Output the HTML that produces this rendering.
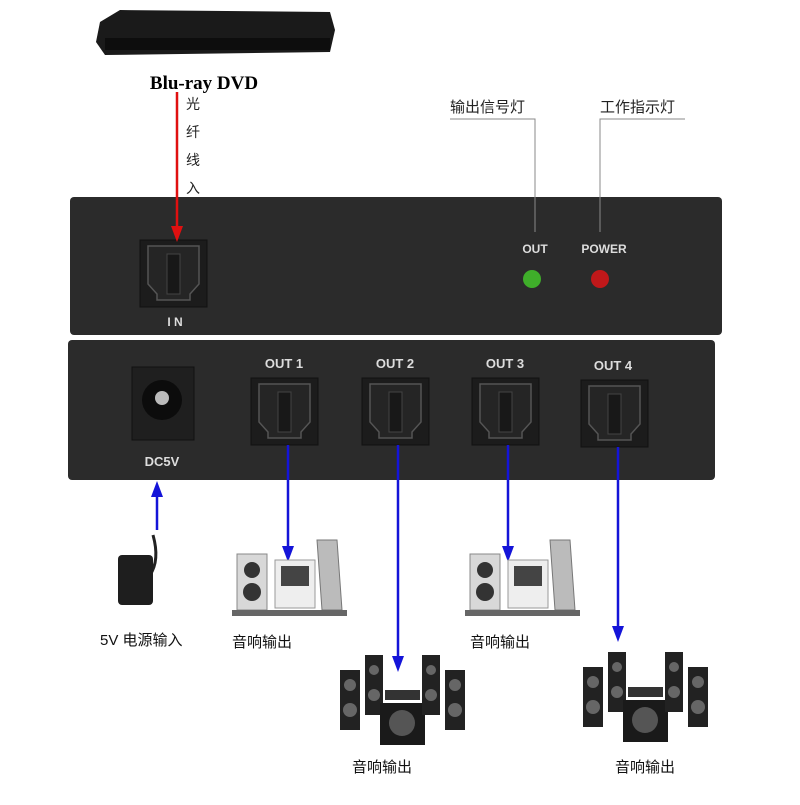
<!DOCTYPE html>
<html><head><meta charset="utf-8"><style>
body{margin:0;background:#fff;width:800px;height:800px;overflow:hidden}
svg text{font-family:"Liberation Sans","Noto Sans CJK SC",sans-serif}
</style></head><body>
<svg width="800" height="800" viewBox="0 0 800 800" xmlns="http://www.w3.org/2000/svg">
<defs>
<g id="port">
<rect x="0" y="0" width="67" height="67" fill="#1c1c1c" stroke="#111"/>
<path d="M8 6 H59 V44 L50 54 L50 60 H17 L17 54 L8 44 Z" fill="#252525" stroke="#555" stroke-width="1.5"/>
<rect x="27" y="14" width="13" height="40" fill="#181818" stroke="#444"/>
</g>
<g id="spk2">
<rect x="0" y="14" width="30" height="56" fill="#d8d8d8" stroke="#888"/>
<circle cx="15" cy="30" r="8" fill="#333"/><circle cx="15" cy="52" r="9" fill="#333"/>
<rect x="38" y="20" width="40" height="48" fill="#eee" stroke="#999"/>
<rect x="44" y="26" width="28" height="20" fill="#444"/>
<path d="M85 70 L80 0 L100 0 L105 70 Z" fill="#bbb" stroke="#777"/>
<rect x="-5" y="70" width="115" height="6" fill="#666"/>
</g>
<g id="ht">
<rect x="0" y="15" width="20" height="60" fill="#222"/><circle cx="10" cy="30" r="6" fill="#666"/><circle cx="10" cy="55" r="7" fill="#666"/>
<rect x="25" y="0" width="18" height="60" fill="#222"/><circle cx="34" cy="15" r="5" fill="#666"/><circle cx="34" cy="40" r="6" fill="#666"/>
<rect x="45" y="35" width="35" height="10" fill="#333"/>
<rect x="40" y="48" width="45" height="42" fill="#1a1a1a"/><circle cx="62" cy="68" r="13" fill="#555"/>
<rect x="82" y="0" width="18" height="60" fill="#222"/><circle cx="91" cy="15" r="5" fill="#666"/><circle cx="91" cy="40" r="6" fill="#666"/>
<rect x="105" y="15" width="20" height="60" fill="#222"/><circle cx="115" cy="30" r="6" fill="#666"/><circle cx="115" cy="55" r="7" fill="#666"/>
</g>
</defs>
<!-- DVD -->
<path d="M100 22 L120 10 L330 12 L335 30 L330 52 L105 55 L96 42 Z" fill="#1a1a1a"/>
<rect x="105" y="38" width="225" height="12" fill="#0d0d0d"/>
<text x="204" y="89" text-anchor="middle" font-weight="bold" font-size="19" style="font-family:'Liberation Serif',serif">Blu-ray DVD</text>
<g font-size="14" fill="#222"><text x="186" y="109">光</text><text x="186" y="137">纤</text><text x="186" y="165">线</text><text x="186" y="193">入</text></g>
<!-- labels -->
<text x="450" y="112" font-size="15" fill="#222">输出信号灯</text>
<text x="600" y="112" font-size="15" fill="#222">工作指示灯</text>
<!-- top box -->
<rect x="70" y="197" width="652" height="138" rx="4" fill="#2b2b2b"/>
<polyline points="450,119 535,119 535,232" fill="none" stroke="#888" stroke-width="1"/>
<polyline points="685,119 600,119 600,232" fill="none" stroke="#888" stroke-width="1"/>
<use href="#port" x="140" y="240"/>
<!-- red arrow -->
<line x1="177" y1="92" x2="177" y2="228" stroke="#e01010" stroke-width="2.5"/>
<path d="M171 226 L183 226 L177 242 Z" fill="#e01010"/>
<text x="175" y="326" text-anchor="middle" font-size="12" font-weight="bold" fill="#ddd">I N</text>
<text x="535" y="253" text-anchor="middle" font-size="12" font-weight="bold" fill="#ddd">OUT</text>
<text x="604" y="253" text-anchor="middle" font-size="12" font-weight="bold" fill="#ddd">POWER</text>
<circle cx="532" cy="279" r="9" fill="#3fae2a"/><circle cx="600" cy="279" r="9" fill="#c0181a"/>
<!-- bottom box -->
<rect x="68" y="340" width="647" height="140" rx="4" fill="#2b2b2b"/>
<rect x="132" y="367" width="62" height="73" fill="#1f1f1f" stroke="#111"/>
<circle cx="162" cy="400" r="20" fill="#0c0c0c"/><circle cx="162" cy="398" r="7" fill="#bbb"/>
<text x="162" y="466" text-anchor="middle" font-size="13" font-weight="bold" fill="#ddd">DC5V</text>
<g font-size="13" font-weight="bold" fill="#ddd" text-anchor="middle">
<text x="284" y="368">OUT 1</text><text x="395" y="368">OUT 2</text><text x="505" y="368">OUT 3</text><text x="613" y="370">OUT 4</text></g>
<use href="#port" x="251" y="378"/><use href="#port" x="362" y="378"/><use href="#port" x="472" y="378"/><use href="#port" x="581" y="380"/>
<!-- blue arrows -->
<g stroke="#1414d8" stroke-width="2.5">
<line x1="288" y1="445" x2="288" y2="548"/><line x1="398" y1="445" x2="398" y2="658"/>
<line x1="508" y1="445" x2="508" y2="548"/><line x1="618" y1="447" x2="618" y2="628"/>
<line x1="157" y1="495" x2="157" y2="530"/></g>
<g fill="#1414d8">
<path d="M282 546 L294 546 L288 562 Z"/><path d="M392 656 L404 656 L398 672 Z"/>
<path d="M502 546 L514 546 L508 562 Z"/><path d="M612 626 L624 626 L618 642 Z"/>
<path d="M151 497 L163 497 L157 481 Z"/></g>
<!-- adapter -->
<path d="M153 535 Q160 560 150 575" stroke="#222" stroke-width="3" fill="none"/>
<rect x="118" y="555" width="35" height="50" rx="4" fill="#1e1e1e"/>
<text x="100" y="645" font-size="15" fill="#111">5V 电源输入</text>
<!-- speakers -->
<use href="#spk2" x="237" y="540"/>
<use href="#spk2" x="470" y="540"/>
<text x="232" y="647" font-size="15" fill="#111">音响输出</text>
<text x="470" y="647" font-size="15" fill="#111">音响输出</text>
<use href="#ht" x="340" y="655"/>
<use href="#ht" x="583" y="652"/>
<text x="352" y="772" font-size="15" fill="#111">音响输出</text>
<text x="615" y="772" font-size="15" fill="#111">音响输出</text>
</svg>
</body></html>
